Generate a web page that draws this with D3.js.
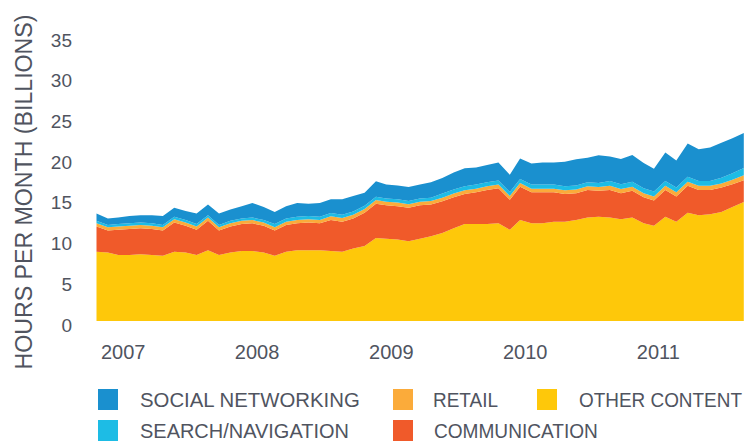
<!DOCTYPE html>
<html>
<head>
<meta charset="utf-8">
<script src="https://cdn.jsdelivr.net/npm/d3@7"></script>
<style>
    body { margin: 0; background: #fff; }
    svg text { font-family: "Liberation Sans", Arial, sans-serif; fill: #50545f; }
</style>
</head>
<body>
<svg id="chart" width="748" height="441"></svg>
<script>

// monthly points, Jan 2007 .. Nov 2011
var months = [
    "2007-01","2007-02","2007-03","2007-04","2007-05","2007-06","2007-07","2007-08","2007-09","2007-10","2007-11","2007-12",
    "2008-01","2008-02","2008-03","2008-04","2008-05","2008-06","2008-07","2008-08","2008-09","2008-10","2008-11","2008-12",
    "2009-01","2009-02","2009-03","2009-04","2009-05","2009-06","2009-07","2009-08","2009-09","2009-10","2009-11","2009-12",
    "2010-01","2010-02","2010-03","2010-04","2010-05","2010-06","2010-07","2010-08","2010-09","2010-10","2010-11","2010-12",
    "2011-01","2011-02","2011-03","2011-04","2011-05","2011-06","2011-07","2011-08","2011-09","2011-10","2011-11"
]

// hours per month (billions)
var otherContent = [8.5,8.4,8.1,8.1,8.2,8.1,8.0,8.5,8.4,8.1,8.7,8.1,
    8.4,8.6,8.6,8.4,8.0,8.5,8.7,8.7,8.7,8.6,8.5,8.9,
    9.2,10.2,10.1,10.0,9.8,10.1,10.4,10.8,11.4,11.9,11.9,11.9,
    12.0,11.2,12.4,12.0,12.0,12.2,12.2,12.4,12.7,12.8,12.7,12.5,
    12.7,12.0,11.7,12.8,12.2,13.3,13.0,13.1,13.4,14.0,14.6]

var communication = [3.1,2.7,3.1,3.2,3.2,3.2,3.1,3.6,3.3,3.1,3.6,3.0,
    3.2,3.3,3.4,3.3,3.1,3.3,3.3,3.4,3.3,3.8,3.7,3.7,
    4.1,4.2,4.1,4.1,4.1,4.1,3.9,3.9,3.8,3.7,3.9,4.2,
    4.3,3.7,4.1,3.8,3.8,3.6,3.4,3.3,3.4,3.2,3.4,3.2,
    3.3,3.2,3.1,3.3,3.1,3.3,3.1,3.0,3.0,2.8,2.7]

var retail = [0.4,0.4,0.4,0.4,0.4,0.4,0.4,0.4,0.4,0.4,0.4,0.4,
    0.4,0.4,0.4,0.4,0.4,0.4,0.4,0.4,0.4,0.45,0.45,0.45,
    0.45,0.45,0.45,0.45,0.45,0.45,0.45,0.45,0.45,0.45,0.45,0.45,
    0.45,0.45,0.45,0.45,0.45,0.45,0.45,0.45,0.45,0.45,0.5,0.5,
    0.5,0.5,0.5,0.5,0.5,0.5,0.5,0.5,0.5,0.55,0.6]

var search = [0.3,0.3,0.3,0.3,0.3,0.3,0.3,0.3,0.3,0.3,0.3,0.3,
    0.3,0.3,0.3,0.3,0.4,0.4,0.4,0.4,0.4,0.4,0.4,0.4,
    0.4,0.4,0.4,0.4,0.4,0.4,0.4,0.5,0.5,0.5,0.5,0.5,
    0.5,0.5,0.5,0.5,0.5,0.5,0.5,0.5,0.5,0.5,0.6,0.6,
    0.6,0.6,0.6,0.6,0.6,0.6,0.6,0.6,0.7,0.8,0.9]

var social = [0.9,0.8,0.8,0.9,0.9,1.0,1.1,1.1,1.1,1.3,1.3,1.4,
    1.4,1.5,1.8,1.6,1.5,1.5,1.7,1.5,1.7,1.7,1.9,1.9,
    1.6,1.9,1.7,1.7,1.7,1.7,1.9,1.9,2.1,2.2,2.1,2.1,
    2.2,2.1,2.5,2.6,2.7,2.7,3.0,3.2,3.0,3.4,3.0,3.1,
    3.3,3.1,2.8,3.5,3.3,4.1,3.9,4.1,4.3,4.3,4.3]

var yTicks = [0, 5, 10, 15, 20, 25, 30, 35]
var yearLabels = ["2007", "2008", "2009", "2010", "2011"]

// bottom to top
var keys = ["other", "communication", "retail", "search", "social"]
var colors = {
    social: "#1a90cf",
    search: "#1dbce5",
    retail: "#fbab3a",
    other: "#fec80a",
    communication: "#f05a2a"
}

var parseMonth = d3.timeParse("%Y-%m")

var rows = []
for (var i = 0; i < months.length; i++) {
    rows.push({
        date: parseMonth(months[i]),
        other: otherContent[i],
        communication: communication[i],
        retail: retail[i],
        search: search[i],
        social: social[i]
    })
}

var svg = d3.select("#chart")

var x = d3.scaleTime()
    .domain(d3.extent(rows, function(d) { return d.date }))
    .range([96.5, 743.8])

var y = d3.scaleLinear()
    .domain([0, 35])
    .range([321, 36])

var series = d3.stack().keys(keys)(rows)

var area = d3.area()
    .x(function(d) { return x(d.data.date) })
    .y0(function(d) { return y(d[0]) })
    .y1(function(d) { return y(d[1]) })

svg.append("g")
    .selectAll("path")
    .data(series)
    .enter().append("path")
    .attr("d", area)
    .attr("fill", function(d) { return colors[d.key] })

// y axis, labels only
var yAxis = svg.append("g")
    .attr("transform", "translate(96.5,4)")
    .call(d3.axisLeft(y).tickValues(yTicks).tickSize(0).tickPadding(24.5))
yAxis.select(".domain").remove()
yAxis.selectAll("text")
    .style("font-size", "19px")
    .attr("fill", null)

// year labels sit just right of each January
svg.append("g")
    .selectAll("text")
    .data(yearLabels)
    .enter().append("text")
    .attr("x", function(d) { return x(parseMonth(d + "-01")) + 4.5 })
    .attr("y", 359)
    .style("font-size", "20px")
    .text(function(d) { return d })

svg.append("text")
    .attr("transform", "translate(32,192) rotate(-90)")
    .attr("text-anchor", "middle")
    .attr("textLength", 355)
    .attr("lengthAdjust", "spacingAndGlyphs")
    .style("font-size", "23px")
    .text("HOURS PER MONTH (BILLIONS)")

// legend
var legendItems = [
    { key: "social", label: "SOCIAL NETWORKING", sx: 98, tx: 140, row: 0, w: 220 },
    { key: "search", label: "SEARCH/NAVIGATION", sx: 98, tx: 140, row: 1, w: 209 },
    { key: "retail", label: "RETAIL", sx: 393, tx: 433, row: 0, w: 65 },
    { key: "communication", label: "COMMUNICATION", sx: 393, tx: 434, row: 1, w: 164 },
    { key: "other", label: "OTHER CONTENT", sx: 537, tx: 579, row: 0, w: 163 }
]

var legend = svg.append("g")
    .selectAll("g")
    .data(legendItems)
    .enter().append("g")

legend.append("rect")
    .attr("x", function(d) { return d.sx })
    .attr("y", function(d) { return 389 + d.row * 31 })
    .attr("width", 20)
    .attr("height", 21)
    .attr("fill", function(d) { return colors[d.key] })

// squeeze each label horizontally to the width it has in the original
legend.append("text")
    .style("font-size", "21px")
    .text(function(d) { return d.label })
    .attr("transform", function(d) {
        var k = d.w / this.getComputedTextLength()
        return "translate(" + d.tx + "," + (407 + d.row * 30.5) + ") scale(" + k + ",1)"
    })

</script>
</body>
</html>
